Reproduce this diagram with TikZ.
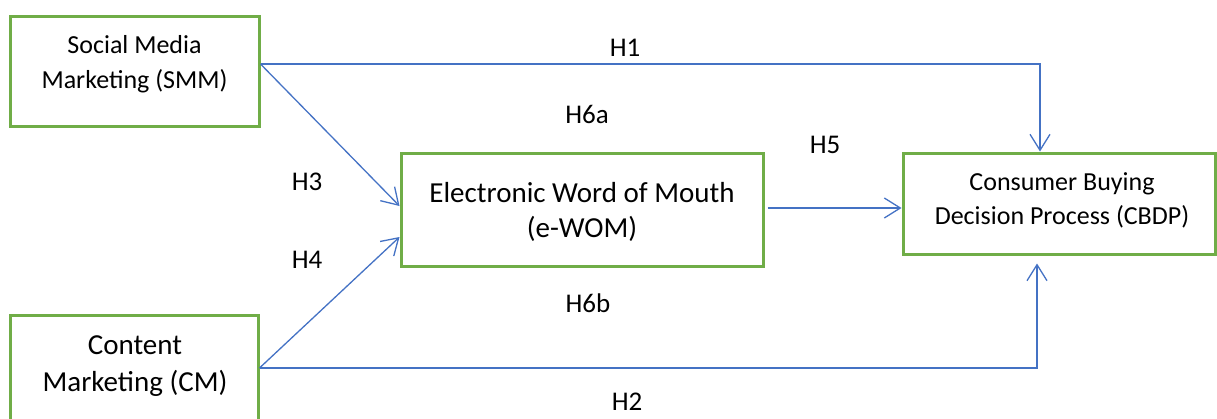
\documentclass[tikz,border=0pt]{standalone}
\usepackage{fontspec}
\setmainfont{Carlito}
\usepackage{tikz}
\usetikzlibrary{arrows.meta,positioning,calc}
\definecolor{boxgreen}{HTML}{70AD47}
\definecolor{lineblue}{HTML}{4472C4}

\begin{document}
\begin{tikzpicture}[x=1pt, y=-1pt,
    box/.style={draw=boxgreen, line width=3pt, fill=white, inner sep=0pt},
    boxtext/.style={align=center, inner sep=0pt},
    hyp/.style={font=\fontsize{27}{32}\selectfont, inner sep=0pt},
    arrow/.style={-{Straight Barb[length=16pt, width=20pt]}, draw=lineblue, line width=1.3pt}
]
    \useasboundingbox (0,0) rectangle (1217,418);

    % Constructs
    \node[box, minimum width=249pt, minimum height=110pt] (smm) at (134.5,71) {};
    \node[box, minimum width=248pt, minimum height=106pt] (cm) at (134,368) {};
    \node[box, minimum width=362pt, minimum height=113pt] (ewom) at (582,209.5) {};
    \node[box, minimum width=312pt, minimum height=101pt] (cbdp) at (1059,203.5) {};

    \node[boxtext, font=\fontsize{26}{35}\selectfont] (smmtxt) at (134.5,64) {Social Media\\Marketing (SMM)};
    \node[boxtext, font=\fontsize{29}{37}\selectfont] (cmtxt) at (135,366) {Content\\Marketing (CM)};
    \node[boxtext, font=\fontsize{29}{35}\selectfont] (ewomtxt) at (582,212) {Electronic Word of Mouth\\(e-WOM)};
    \node[boxtext, font=\fontsize{26}{34}\selectfont] (cbdptxt) at (1062,200) {Consumer Buying\\Decision Process (CBDP)};

    % Paths
    \draw[arrow] ([yshift=7pt]smm.east) -| ([xshift=-19pt]cbdp.north);
    \draw[arrow] ([yshift=7pt]smm.east) -- ([yshift=3.5pt]ewom.west);
    \draw[arrow] (cm.east) -- ([yshift=-27.5pt]ewom.west);
    \draw[arrow] (cm.east) -| ([xshift=-22pt, yshift=-8pt]cbdp.south);
    \draw[arrow, shorten <=3pt] ([yshift=1.5pt]ewom.east) -- ([yshift=-4.5pt]cbdp.west);

    % Hypotheses
    \node[hyp] (h1) at (625,48) {H1};
    \node[hyp] (h6a) at (587,114) {H6a};
    \node[hyp] (h5) at (825,145) {H5};
    \node[hyp] (h3) at (307,182) {H3};
    \node[hyp] (h4) at (307,260) {H4};
    \node[hyp] (h6b) at (588,303) {H6b};
    \node[hyp] (h2) at (627,402) {H2};
\end{tikzpicture}
\end{document}
